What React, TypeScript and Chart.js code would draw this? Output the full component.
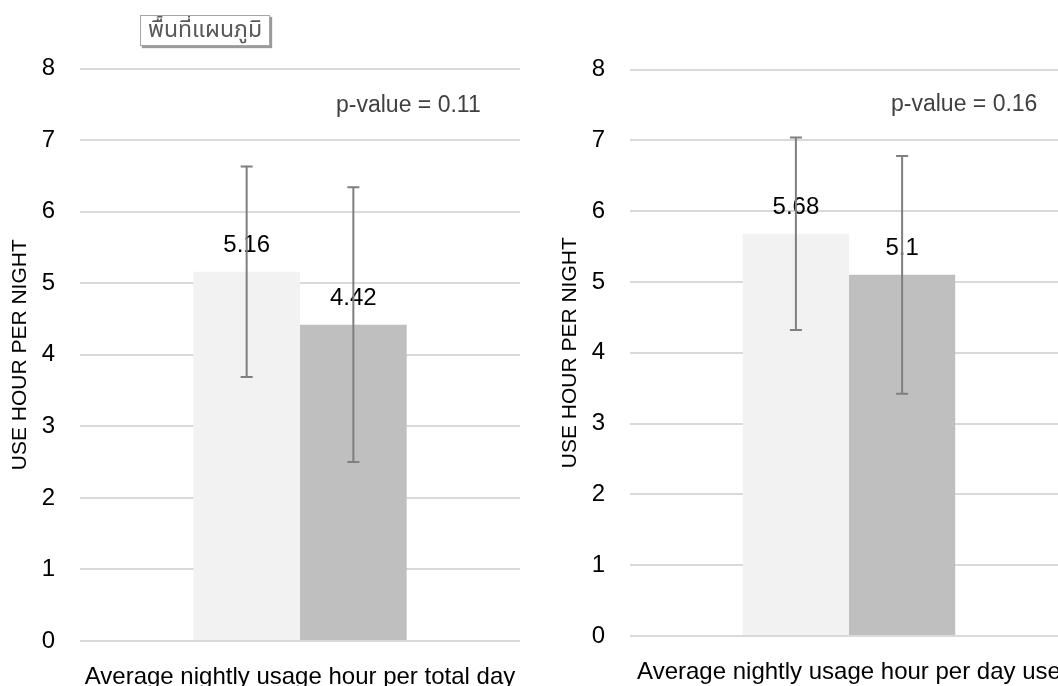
import React, { useEffect, useRef } from "react";
import { Chart, registerables } from "chart.js";

Chart.register(...registerables);

// ---- data ----
const categoriesLeft = ["Average nightly usage hour per total day"];
const categoriesRight = ["Average nightly usage hour per day use"];
const seriesNames = ["Group 1", "Group 2"];
const leftValues = [5.16, 4.42];
const leftErrors = [1.47, 1.92];
const rightValues = [5.68, 5.1];
const rightErrors = [1.36, 1.68];
const leftValueLabels = ["5.16", "4.42"];
const rightValueLabels = ["5.68", "5.1"];
const yTickValues = [0, 1, 2, 3, 4, 5, 6, 7, 8];
const yAxisTitle = "USE HOUR PER NIGHT";
const pValueLeft = "p-value = 0.11";
const pValueRight = "p-value = 0.16";
const chartAreaLabel = "พื้นที่แผนภูมิ";
const barColors = ["#f2f2f2", "#bfbfbf"];

const FONT = "'Liberation Sans', Arial, sans-serif";

type PanelProps = {
  categories: string[];
  values: number[];
  errors: number[];
  valueLabels: string[];
  width: number;
  height: number;
  padTop: number;
  padRight: number;
  xAxisHeight: number;
};

function Panel(props: PanelProps) {
  const ref = useRef<HTMLCanvasElement | null>(null);
  useEffect(() => {
    if (!ref.current) return;
    const { categories, values, errors, valueLabels, padTop, padRight, xAxisHeight } = props;
    const overlay = {
      id: "errAndLabels",
      afterDatasetsDraw(chart: any) {
        const ctx = chart.ctx;
        const yScale = chart.scales.y;
        ctx.save();
        chart.data.datasets.forEach((_ds: any, i: number) => {
          const meta = chart.getDatasetMeta(i);
          const bar = meta.data[0];
          if (!bar) return;
          ctx.fillStyle = "#000";
          ctx.font = `24px ${FONT}`;
          ctx.textAlign = "center";
          ctx.textBaseline = "middle";
          ctx.fillText(valueLabels[i], bar.x, bar.y - 26);
        });
        chart.data.datasets.forEach((_ds: any, i: number) => {
          const meta = chart.getDatasetMeta(i);
          const bar = meta.data[0];
          if (!bar) return;
          const v = values[i];
          const e = errors[i];
          const yTop = yScale.getPixelForValue(v + e);
          const yBot = yScale.getPixelForValue(v - e);
          ctx.strokeStyle = "#7f7f7f";
          ctx.lineWidth = 2;
          ctx.beginPath();
          ctx.moveTo(bar.x, yTop);
          ctx.lineTo(bar.x, yBot);
          ctx.moveTo(bar.x - 6, yTop);
          ctx.lineTo(bar.x + 6, yTop);
          ctx.moveTo(bar.x - 6, yBot);
          ctx.lineTo(bar.x + 6, yBot);
          ctx.stroke();
        });
        ctx.restore();
      },
    };
    const chart = new Chart(ref.current, {
      type: "bar",
      data: {
        labels: categories,
        datasets: values.map((v, i) => ({
          label: seriesNames[i],
          data: [v],
          backgroundColor: barColors[i],
          borderWidth: 0,
          categoryPercentage: 0.485,
          barPercentage: 1,
        })),
      },
      options: {
        responsive: false,
        animation: false,
        devicePixelRatio: 1,
        layout: { padding: { top: padTop, right: padRight, left: 0, bottom: 0 } },
        plugins: { legend: { display: false }, tooltip: { enabled: false } },
        scales: {
          x: {
            grid: { display: false },
            border: { display: false },
            ticks: {
              color: "#000",
              font: { family: FONT, size: 24 },
              padding: 14,
              maxRotation: 0,
              minRotation: 0,
              autoSkip: false,
            },
            afterFit: (s: any) => {
              s.height = xAxisHeight;
              s.paddingLeft = 0;
              s.paddingRight = 0;
            },
          },
          y: {
            min: 0,
            max: 8,
            afterBuildTicks: (s: any) => {
              s.ticks = yTickValues.map((v) => ({ value: v }));
            },
            afterFit: (s: any) => {
              s.width = 80;
            },
            grid: { color: "#d9d9d9", lineWidth: 2, drawTicks: false },
            border: { display: false },
            ticks: {
              color: "#000",
              font: { family: FONT, size: 24 },
              padding: 25,
            },
            title: {
              display: true,
              text: yAxisTitle,
              color: "#000",
              font: { family: FONT, size: 21 },
              padding: { top: 8, bottom: 0 },
            },
          },
        },
      },
      plugins: [overlay],
    } as any);
    return () => chart.destroy();
  }, []);
  return (
    <canvas
      ref={ref}
      width={props.width}
      height={props.height}
      style={{ width: props.width, height: props.height, display: "block" }}
    />
  );
}

export default function App() {
  const pStyle: React.CSSProperties = {
    position: "absolute",
    fontFamily: FONT,
    fontSize: 23,
    color: "#404040",
    whiteSpace: "nowrap",
    lineHeight: "26px",
  };
  return (
    <div
      style={{
        position: "fixed",
        left: 0,
        top: 0,
        width: 1058,
        height: 686,
        overflow: "hidden",
        background: "#fff",
      }}
    >
      <div style={{ position: "absolute", left: 0, top: 0 }}>
        <Panel
          categories={categoriesLeft}
          values={leftValues}
          errors={leftErrors}
          valueLabels={leftValueLabels}
          width={530}
          height={686}
          padTop={68.5}
          padRight={10}
          xAxisHeight={45}
        />
      </div>
      <div style={{ position: "absolute", left: 550, top: 0 }}>
        <Panel
          categories={categoriesRight}
          values={rightValues}
          errors={rightErrors}
          valueLabels={rightValueLabels}
          width={520}
          height={686}
          padTop={69.5}
          padRight={2}
          xAxisHeight={50}
        />
      </div>
      <div style={{ ...pStyle, left: 336, top: 91 }}>{pValueLeft}</div>
      <div style={{ ...pStyle, left: 891, top: 90 }}>{pValueRight}</div>
      <div
        style={{
          position: "absolute",
          left: 140,
          top: 15,
          width: 128,
          height: 29,
          border: "1px solid #a6a6a6",
          boxShadow: "2px 2px 1px #9a9a9a",
          background: "#fff",
          color: "#595959",
          fontFamily: "'Noto Sans Thai', Tahoma, 'Noto Sans', sans-serif",
          fontSize: 23,
          lineHeight: "29px",
          textAlign: "center",
          whiteSpace: "nowrap",
          overflow: "hidden",
        }}
      >
        {chartAreaLabel}
      </div>
    </div>
  );
}
